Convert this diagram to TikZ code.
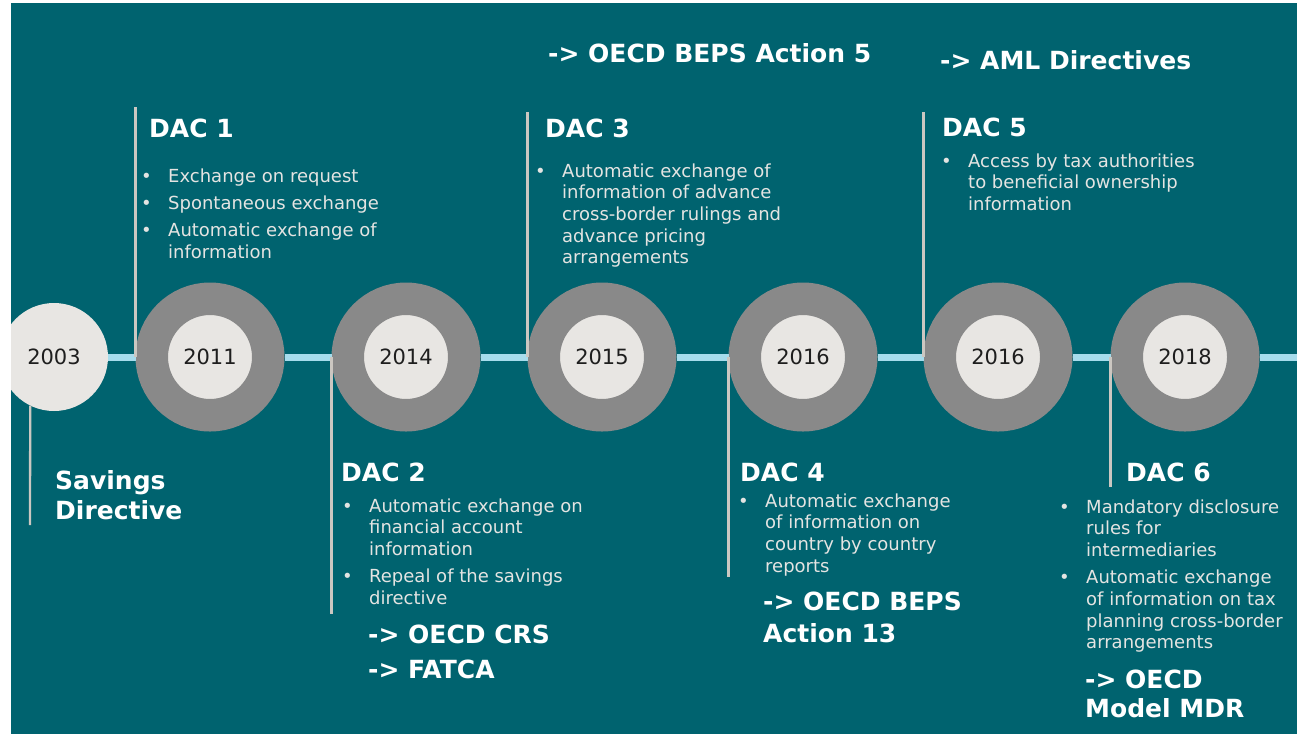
\documentclass[tikz,border=0pt]{standalone}
\usepackage{fontspec}
\setmainfont{DejaVu Sans}
\usetikzlibrary{calc}

\definecolor{tealbg}{HTML}{00636F}
\definecolor{ringgray}{HTML}{898989}
\definecolor{disc}{HTML}{E8E6E3}
\definecolor{lineblue}{HTML}{A6DCEC}
\definecolor{stemgray}{HTML}{CBC7C1}
\definecolor{bodytext}{HTML}{E4E4E2}
\definecolor{yeartext}{HTML}{1E1E1E}

\newcommand{\headfont}{\fontsize{25}{31}\selectfont\bfseries}
\newcommand{\bodyfont}{\fontsize{18}{21.7}\selectfont}
\newcommand{\yearfont}{\fontsize{21}{25}\selectfont}
\newcommand{\blt}{\makebox[27pt][l]{\textbullet}}
\newcommand{\ind}{\hspace*{27pt}}

\tikzset{
  ring/.style={circle, draw=ringgray, line width=32.5pt, fill=disc, minimum size=116.5pt, inner sep=0pt, text=yeartext, font=\yearfont},
  plaindisc/.style={circle, fill=disc, minimum size=108pt, inner sep=0pt, text=yeartext, font=\yearfont},
  timeline/.style={draw=lineblue, line width=7pt},
  stem/.style={draw=stemgray, line width=2.3pt},
  head/.style={anchor=base west, inner sep=0pt, text=white, font=\headfont},
  body/.style={anchor=base west, inner sep=0pt, text=bodytext, font=\bodyfont}
}

\begin{document}
\begin{tikzpicture}[x=1pt, y=-1pt]

        \useasboundingbox (0,0) rectangle (1297,734);
        \fill[white] (0,0) rectangle (1297,734);

        \begin{scope}
        \clip (11,3) rectangle (1297,734);
        \fill[tealbg] (11,3) rectangle (1297,734);

        % --- YEARS ---
        \node[plaindisc] (c2003) at (54,357) {2003};
        \foreach \nm/\yr/\x in {c2011/2011/210, c2014/2014/406, c2015/2015/602, c2016a/2016/803, c2016b/2016/998, c2018/2018/1185} {
            \node[ring] (\nm) at (\x,357) {\yr};
        }
        \coordinate (lineend) at (1297,358);

        % Timeline
        \foreach \a/\b in {c2003/c2011, c2011/c2014, c2014/c2015, c2015/c2016a, c2016a/c2016b, c2016b/c2018} {
            \draw[timeline] (\a.east) -- (\b.west);
        }
        \draw[timeline] (c2018.east) -- (c2018.east -| lineend);

        % Stems
        \coordinate (s2003) at (30,525);
        \draw[stem] (c2003.244) -- (s2003);
        \foreach \nm/\yend in {c2011/107, c2014/614, c2015/112, c2016a/577, c2016b/112, c2018/487} {
            \coordinate (s\nm) at ($(\nm.west |- 0,\yend)$);
            \draw[stem] (\nm.west) -- (s\nm);
        }
        \end{scope}

        % --- ABOVE THE LINE ---
        \node[head] (beps5) at (548,62) {-> OECD BEPS Action 5};
        \node[head] (aml) at (940,69) {-> AML Directives};

        \node[head] (dac1) at (149,137) {DAC 1};
        \node[body] (dac1txt) at (141,182) {\parbox[t]{300pt}{\blt Exchange on request\\[5.5pt]\blt Spontaneous exchange\\[5.5pt]\blt Automatic exchange of\\\ind information}};

        \node[head] (dac3) at (545,137) {DAC 3};
        \node[body] (dac3txt) at (535,177) {\parbox[t]{300pt}{\blt Automatic exchange of\\\ind information of advance\\\ind cross-border rulings and\\\ind advance pricing\\\ind arrangements}};

        \node[head] (dac5) at (942,136) {DAC 5};
        \node[body] (dac5txt) at (941,167) {\parbox[t]{330pt}{\blt Access by tax authorities\\\ind to beneficial ownership\\\ind information}};

        % --- BELOW THE LINE ---
        \node[head] (savings) at (55,489) {\parbox[t]{250pt}{\fontsize{25}{30}\selectfont Savings\\Directive}};

        \node[head] (dac2) at (341,481) {DAC 2};
        \node[body] (dac2txt) at (342,512) {\parbox[t]{300pt}{\blt Automatic exchange on\\\ind financial account\\\ind information\\[5.5pt]\blt Repeal of the savings\\\ind directive}};
        \node[head] (crs) at (368,643) {\parbox[t]{250pt}{-> OECD CRS\\[4pt]-> FATCA}};

        \node[head] (dac4) at (740,481) {DAC 4};
        \node[body] (dac4txt) at (738,507) {\parbox[t]{300pt}{\blt Automatic exchange\\\ind of information on\\\ind country by country\\\ind reports}};
        \node[head] (beps13) at (763,610) {\parbox[t]{250pt}{\fontsize{25}{32}\selectfont -> OECD BEPS\\Action 13}};

        \node[head] (dac6) at (1126,481) {DAC 6};
        \node[body] (dac6txt) at (1059,513) {\parbox[t]{300pt}{\blt Mandatory disclosure\\\ind rules for\\\ind intermediaries\\[5.5pt]\blt Automatic exchange\\\ind of information on tax\\\ind planning cross-border\\\ind arrangements}};
        \node[head] (mdr) at (1085,688) {\parbox[t]{250pt}{\fontsize{25}{29}\selectfont -> OECD\\Model MDR}};

\end{tikzpicture}
\end{document}
